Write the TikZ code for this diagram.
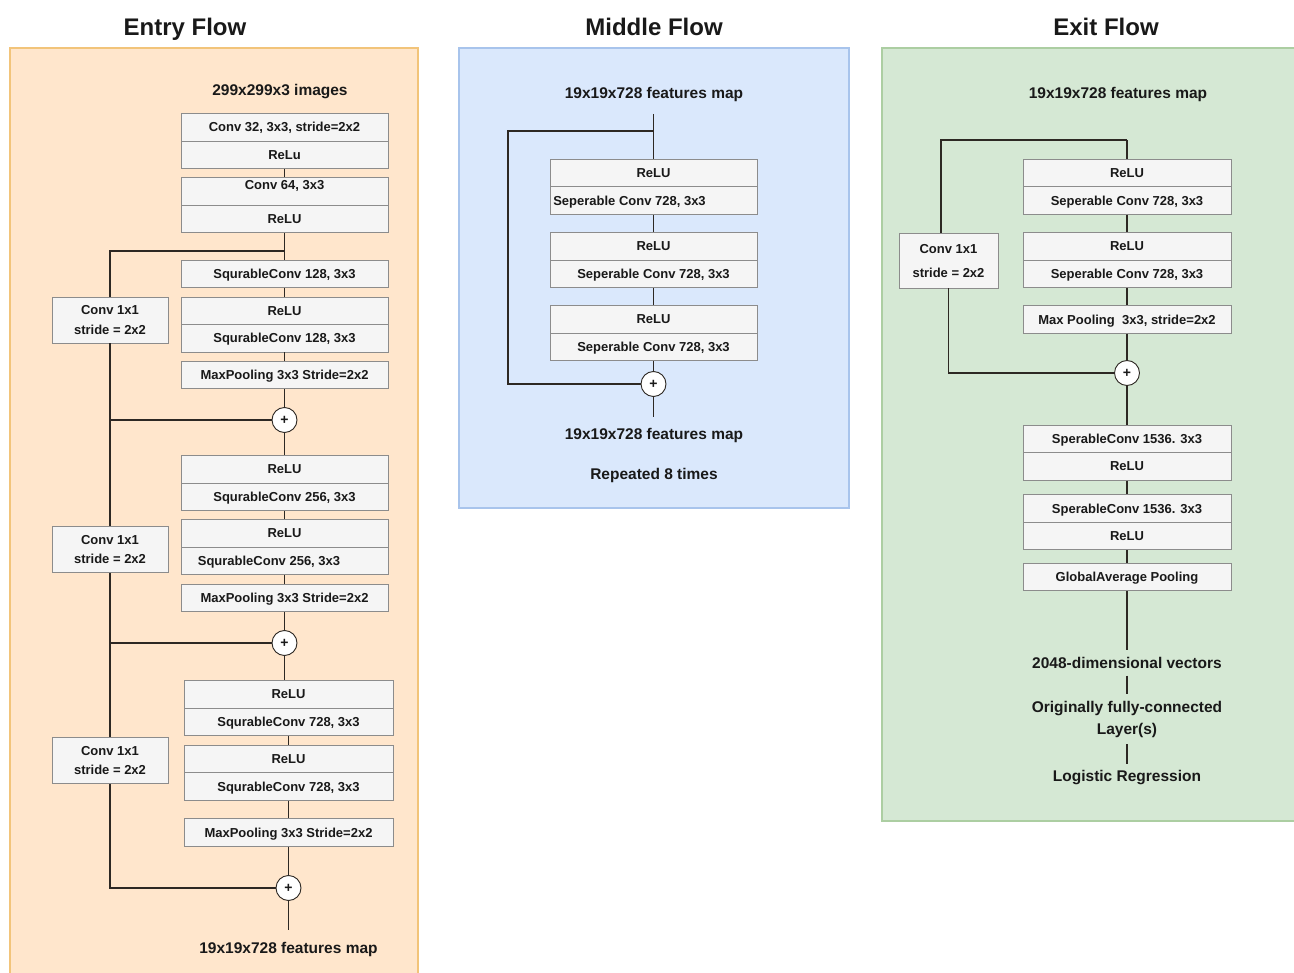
\documentclass[tikz,border=0pt]{standalone}
\usepackage{fontspec}
\setmainfont{Liberation Sans}
\definecolor{entryfill}{RGB}{255,230,204}
\definecolor{entrydraw}{RGB}{242,196,122}
\definecolor{midfill}{RGB}{218,232,252}
\definecolor{middraw}{RGB}{168,196,236}
\definecolor{exitfill}{RGB}{213,232,212}
\definecolor{exitdraw}{RGB}{172,206,162}
\definecolor{boxfill}{RGB}{245,245,245}
\definecolor{boxdraw}{RGB}{140,140,140}
\definecolor{linec}{RGB}{45,40,35}
\definecolor{txt}{RGB}{25,25,25}
\begin{document}
\begin{tikzpicture}[x=1pt,y=-1pt,
  blk/.style={draw=boxdraw, fill=boxfill, line width=0.9pt, minimum width=207, minimum height=27.5, inner sep=0, text depth=0pt, text=txt, font=\bfseries\fontsize{13}{15}\selectfont},
  convbox/.style={blk, minimum width=116, minimum height=46, align=center, font=\bfseries\fontsize{13}{19.5}\selectfont},
  plusnode/.style={circle, draw=linec, fill=white, minimum size=25, inner sep=0, line width=0.9pt, text=txt, font=\bfseries\fontsize{14}{14}\selectfont},
  lbl/.style={inner sep=0, outer sep=7, align=center, text=txt, font=\bfseries\fontsize{15.5}{22}\selectfont},
  ttl/.style={inner sep=0, text depth=0pt, text=txt, font=\bfseries\fontsize{24}{28}\selectfont},
  conn/.style={draw=linec, line width=1.6pt},
  panel/.style={line width=1.1pt}]
\useasboundingbox (0,0) rectangle (1294,973);
\fill[white] (0,0) rectangle (1294,973);

% panels
\draw[panel, draw=entrydraw, fill=entryfill] (10,48) rectangle (418,985);
\draw[panel, draw=middraw, fill=midfill] (459,48) rectangle (849,508);
\draw[panel, draw=exitdraw, fill=exitfill] (882,48) rectangle (1305,821);

% titles
\node[ttl] (t1) at (185,27) {Entry Flow};
\node[ttl] (t2) at (654,27) {Middle Flow};
\node[ttl] (t3) at (1106,27) {Exit Flow};

% ---------------- Entry flow ----------------
\node[lbl, text depth=0pt] (ei) at (280,90) {299x299x3 images};
\node[blk] (e1a) at (284.5,127.25) {Conv 32, 3x3, stride=2x2};
\node[blk] (e1b) at (284.5,154.75) {ReLu};
\node[blk, text depth=14pt] (e2a) at (284.5,191.5) {Conv 64, 3x3};
\node[blk] (e2b) at (284.5,219) {ReLU};
\coordinate (j1) at (284.5,251);
\node[blk] (e3) at (284.5,274) {SqurableConv 128, 3x3};
\node[blk] (e4a) at (284.5,310.75) {ReLU};
\node[blk] (e4b) at (284.5,338.25) {SqurableConv 128, 3x3};
\node[convbox] (c1) at (110,320) {Conv 1x1\\stride = 2x2};
\node[blk] (e5) at (284.5,375) {MaxPooling 3x3 Stride=2x2};
\node[plusnode] (p1) at (284.5,420) {+};
\node[blk] (e6a) at (284.5,469.5) {ReLU};
\node[blk] (e6b) at (284.5,497) {SqurableConv 256, 3x3};
\node[blk] (e7a) at (284.5,533.5) {ReLU};
\node[blk] (e7b) at (284.5,561) {\hspace*{-31pt}SqurableConv 256, 3x3};
\node[convbox] (c2) at (110,549.5) {Conv 1x1\\stride = 2x2};
\node[blk] (e8) at (284.5,598) {MaxPooling 3x3 Stride=2x2};
\node[plusnode] (p2) at (284.5,643) {+};
\node[blk, minimum width=209] (e9a) at (288.5,694.5) {ReLU};
\node[blk, minimum width=209] (e9b) at (288.5,722) {SqurableConv 728, 3x3};
\node[blk, minimum width=209] (e10a) at (288.5,759) {ReLU};
\node[blk, minimum width=209] (e10b) at (288.5,786.5) {SqurableConv 728, 3x3};
\node[convbox] (c3) at (110,760.5) {Conv 1x1\\stride = 2x2};
\node[blk, minimum width=209] (e11) at (288.5,832.5) {MaxPooling 3x3 Stride=2x2};
\node[plusnode] (p3) at (288.5,888) {+};
\coordinate (eout) at (288.5,930);
\node[lbl, text depth=0pt] (eo) at (288.5,948) {19x19x728 features map};

\coordinate (k1) at (c1.south |- p1.west);
\coordinate (k2) at (c2.south |- p2.west);

\draw[conn] (e1b.south) -- (e2a.north);
\draw[conn] (e2b.south) -- (e3.north);
\draw[conn] (j1) -| (c1.north);
\draw[conn] (e3.south) -- (e4a.north);
\draw[conn] (e4b.south) -- (e5.north);
\draw[conn] (e5.south) -- (p1.north);
\draw[conn] (c1.south) |- (p1.west);
\draw[conn] (p1.south) -- (e6a.north);
\draw[conn] (k1) -- (c2.north);
\draw[conn] (e6b.south) -- (e7a.north);
\draw[conn] (e7b.south) -- (e8.north);
\draw[conn] (e8.south) -- (p2.north);
\draw[conn] (c2.south) |- (p2.west);
\draw[conn] (p2.south) -- (p2.south |- e9a.north);
\draw[conn] (k2) -- (c3.north);
\draw[conn] (e9b.south) -- (e10a.north);
\draw[conn] (e10b.south) -- (e11.north);
\draw[conn] (e11.south) -- (p3.north);
\draw[conn] (c3.south) |- (p3.west);
\draw[conn] (p3.south) -- (eout);

% ---------------- Middle flow ----------------
\node[lbl, text depth=0pt] (mi) at (654,93) {19x19x728 features map};
\coordinate (mtop) at (653.5,114);
\coordinate (mj) at (653.5,131);
\node[blk] (m1a) at (653.5,173) {ReLU};
\node[blk] (m1b) at (653.5,200.5) {\hspace*{-48pt}Seperable Conv 728, 3x3};
\node[blk] (m2a) at (653.5,246.5) {ReLU};
\node[blk] (m2b) at (653.5,274) {Seperable Conv 728, 3x3};
\node[blk] (m3a) at (653.5,319.5) {ReLU};
\node[blk] (m3b) at (653.5,347) {Seperable Conv 728, 3x3};
\node[plusnode] (mp) at (653.5,384) {+};
\coordinate (mL) at (508,384);
\coordinate (mout) at (653.5,417);
\node[lbl, text depth=0pt] (mo) at (654,434) {19x19x728 features map};
\node[lbl, text depth=0pt] (mr) at (654,474) {Repeated 8 times};

\draw[conn] (mtop) -- (m1a.north);
\draw[conn] (mj) -| (mL) -- (mp.west);
\draw[conn] (m1b.south) -- (m2a.north);
\draw[conn] (m2b.south) -- (m3a.north);
\draw[conn] (m3b.south) -- (mp.north);
\draw[conn] (mp.south) -- (mout);

% ---------------- Exit flow ----------------
\node[lbl, text depth=0pt] (xi) at (1118,93) {19x19x728 features map};
\coordinate (xj) at (1127,140);
\coordinate (xL) at (941,140);
\node[blk, minimum width=208] (x1a) at (1127,173) {ReLU};
\node[blk, minimum width=208] (x1b) at (1127,200.5) {Seperable Conv 728, 3x3};
\node[blk, minimum width=208] (x2a) at (1127,246.5) {ReLU};
\node[blk, minimum width=208] (x2b) at (1127,274) {Seperable Conv 728, 3x3};
\node[convbox, minimum width=99, minimum height=55, font=\bfseries\fontsize{13}{24}\selectfont] (xc) at (948.5,260.5) {Conv 1x1\\stride = 2x2};
\node[blk, minimum width=208] (x3) at (1127,319.5) {Max Pooling\ \ 3x3, stride=2x2};
\node[plusnode] (xp) at (1127,373) {+};
\node[blk, minimum width=208] (x4a) at (1127,439) {SperableConv 1536. 3x3};
\node[blk, minimum width=208] (x4b) at (1127,466.5) {ReLU};
\node[blk, minimum width=208] (x5a) at (1127,508.5) {SperableConv 1536. 3x3};
\node[blk, minimum width=208] (x5b) at (1127,536) {ReLU};
\node[blk, minimum width=208] (x6) at (1127,577) {GlobalAverage Pooling};
\node[lbl] (xv) at (1127,663) {2048-dimensional vectors};
\node[lbl] (xf) at (1127,719) {Originally fully-connected\\Layer(s)};
\node[lbl] (xr) at (1127,778) {Logistic Regression};

\draw[conn] (xj) -- (x1a.north);
\draw[conn] (xj) -- (xL) -- (xL |- xc.north);
\draw[conn] (x1b.south) -- (x2a.north);
\draw[conn] (x2b.south) -- (x3.north);
\draw[conn] (x3.south) -- (xp.north);
\draw[conn] (xc.south) |- (xp.west);
\draw[conn] (xp.south) -- (x4a.north);
\draw[conn] (x4b.south) -- (x5a.north);
\draw[conn] (x5b.south) -- (x6.north);
\draw[conn] (x6.south) -- (xv.north);
\draw[conn, line width=1.2pt] (xv.south) -- (xf.north);
\draw[conn, line width=1.2pt] (xf.south) -- (xr.north);
\end{tikzpicture}
\end{document}
